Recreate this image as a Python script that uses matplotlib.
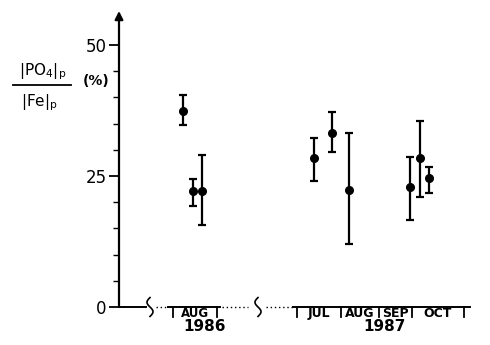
import numpy as np
import matplotlib
matplotlib.use("Agg")
import matplotlib.pyplot as plt

# ratio |PO4|p / |Fe|p (%)
x_pos = [64, 74, 83, 195, 213, 230, 291, 301, 310]
ratio = [37.4, 22.1, 22.1, 28.4, 33.2, 22.3, 22.9, 28.4, 24.6]
err_hi = [40.5, 24.4, 29.0, 32.3, 37.2, 33.2, 28.6, 35.5, 26.7]
err_lo = [34.7, 19.3, 15.6, 24.0, 29.6, 12.0, 16.6, 21.0, 21.8]

# broken time axis: month boundaries and labels
ticks_1986 = [54, 98]
ticks_1987 = [178, 222, 260, 293, 345]
months_1986 = ["AUG"]
months_1987 = ["JUL", "AUG", "SEP", "OCT"]
years = ["1986", "1987"]
year_x = [86, 265]
breaks_x = [31, 139]

fig = plt.figure(figsize=(4.9, 3.45), dpi=100)
ax = fig.add_axes([119 / 490, 38 / 345, 361 / 490, 296 / 345])
ax.set_xlim(0, 361)
ax.set_ylim(0, 56.5)

for s in ax.spines.values():
    s.set_visible(False)

# y axis with arrow
ax.annotate("", xy=(0, 56.5), xytext=(0, 0), annotation_clip=False,
            arrowprops=dict(arrowstyle="-|>", lw=1.6, color="black",
                            mutation_scale=12, shrinkA=0, shrinkB=0))
ax.set_yticks([0, 25, 50])
ax.set_yticklabels(["0", "25", "50"], fontsize=12)
ax.set_yticks(np.arange(5, 50, 5), minor=True)
ax.tick_params(axis="y", which="major", length=7, width=1.3, pad=2)
ax.tick_params(axis="y", which="minor", length=4, width=1.0)
ax.set_xticks([])

# x axis pieces
kw = dict(color="black", clip_on=False)
ax.plot([0, 27], [0, 0], lw=1.4, **kw)
ax.plot([37, 48], [0, 0], lw=1.0, ls=(0, (1, 2)), **kw)
ax.plot([49, 101], [0, 0], lw=1.4, **kw)
ax.plot([103, 129], [0, 0], lw=1.0, ls=(0, (1, 2)), **kw)
ax.plot([147, 174], [0, 0], lw=1.0, ls=(0, (1, 2)), **kw)
ax.plot([174, 351], [0, 0], lw=1.4, **kw)

# break symbols (S-shaped squiggles)
t = np.linspace(0, 1, 50)
for bx in breaks_x:
    ax.plot(bx - 3.0 * np.sin(2 * np.pi * t), 1.8 - 3.6 * t, lw=1.2, **kw)

for tx in ticks_1986 + ticks_1987:
    ax.plot([tx, tx], [0, -2.0], lw=1.3, **kw)

for i, m in enumerate(months_1986):
    ax.text((ticks_1986[i] + ticks_1986[i + 1]) / 2, -1.2, m, ha="center",
            va="center", fontsize=8.5, fontweight="bold", clip_on=False)
for i, m in enumerate(months_1987):
    ax.text((ticks_1987[i] + ticks_1987[i + 1]) / 2, -1.2, m, ha="center",
            va="center", fontsize=9, fontweight="bold", clip_on=False)
for yx, yr in zip(year_x, years):
    ax.text(yx, -3.7, yr, ha="center", va="center", fontsize=11,
            fontweight="bold", clip_on=False)

# data with error bars
x = np.array(x_pos)
y = np.array(ratio)
yerr = [y - np.array(err_lo), np.array(err_hi) - y]
ax.errorbar(x, y, yerr=yerr, fmt="o", color="black", ms=5.5,
            elinewidth=1.6, capsize=3, capthick=1.6)

# y label as a fraction
fig.text(43 / 490, 1 - 72 / 345, r"$|\mathrm{PO_4}|_\mathrm{p}$",
         ha="center", va="center", fontsize=11)
fig.add_artist(plt.Line2D([13 / 490, 71 / 490], [1 - 85 / 345, 1 - 85 / 345],
                          color="black", lw=1.3))
fig.text(39 / 490, 1 - 103 / 345, r"$|\mathrm{Fe}|_\mathrm{p}$",
         ha="center", va="center", fontsize=11)
fig.text(96 / 490, 1 - 81 / 345, "(%)", ha="center", va="center",
         fontsize=10, fontweight="bold")

fig.savefig("out.png", dpi=100)
